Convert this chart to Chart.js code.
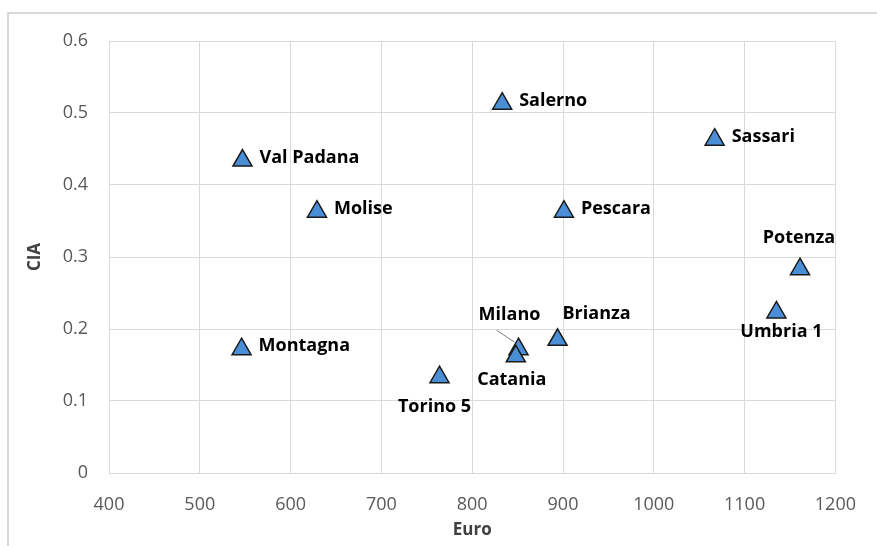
<!DOCTYPE html>
<html>
<head>
<meta charset="utf-8">
<script src="https://cdn.jsdelivr.net/npm/chart.js@4.4.0/dist/chart.umd.min.js"></script>
<style>
  html, body { margin: 0; padding: 0; background: #fff; }
  #wrap { width: 877px; height: 546px; position: relative; }
</style>
</head>
<body>
<div id="wrap"><canvas id="myChart"></canvas></div>
<script>
// data
var nomi = ['Val Padana', 'Molise', 'Salerno', 'Sassari', 'Pescara', 'Potenza',
            'Umbria 1', 'Brianza', 'Milano', 'Catania', 'Montagna', 'Torino 5'];
var euro = [547, 629, 833, 1067, 901, 1161, 1135, 894, 851, 848, 546, 764];
var cia  = [0.434, 0.363, 0.513, 0.463, 0.363, 0.283, 0.223, 0.185, 0.172, 0.162, 0.172, 0.133];
var xTicks = [400, 500, 600, 700, 800, 900, 1000, 1100, 1200];
var yTicks = [0, 0.1, 0.2, 0.3, 0.4, 0.5, 0.6];

// where each label sits relative to its marker (dx, dy, align)
var posEtichette = {
    'Val Padana': [17, -3, 'left'],
    'Molise':     [17, -3, 'left'],
    'Salerno':    [17, -3, 'left'],
    'Sassari':    [17, -3, 'left'],
    'Pescara':    [17, -3, 'left'],
    'Montagna':   [17, -3, 'left'],
    'Potenza':    [-1, -31, 'center'],
    'Umbria 1':   [5, 19, 'center'],
    'Brianza':    [39, -26, 'center'],
    'Milano':     [-9, -34, 'center'],
    'Catania':    [-4, 24, 'center'],
    'Torino 5':   [-5, 30, 'center']
};

var punti = [];
for (var i = 0; i < nomi.length; i++) {
    punti.push({x: euro[i], y: cia[i]});
}

var cornice = {
    id: 'cornice',
    beforeDraw: function(chart) {
        var ctx = chart.ctx;
        ctx.save();
        ctx.fillStyle = '#ffffff';
        ctx.fillRect(0, 0, chart.width, chart.height);
        ctx.strokeStyle = '#d9d9d9';
        ctx.lineWidth = 2;
        ctx.beginPath();
        ctx.moveTo(8, chart.height);
        ctx.lineTo(8, 13);
        ctx.lineTo(chart.width, 13);
        ctx.stroke();
        ctx.restore();
    }
};

var etichette = {
    id: 'etichette',
    afterDatasetsDraw: function(chart) {
        var ctx = chart.ctx;
        var meta = chart.getDatasetMeta(0);
        ctx.save();
        ctx.font = 'bold 18px "Open Sans"';
        ctx.fillStyle = '#000000';
        ctx.textBaseline = 'middle';
        meta.data.forEach(function(p, i) {
            var pos = posEtichette[nomi[i]];
            ctx.textAlign = pos[2];
            ctx.fillText(nomi[i], p.x + pos[0], p.y + pos[1]);
            if (nomi[i] == 'Milano') {
                ctx.strokeStyle = '#7f7f7f';
                ctx.lineWidth = 1;
                ctx.beginPath();
                ctx.moveTo(p.x - 22, p.y - 19);
                ctx.lineTo(p.x - 4, p.y - 7);
                ctx.stroke();
            }
        });
        ctx.restore();
    }
};

var ctx = document.getElementById('myChart');
var chart = new Chart(ctx, {
    type: 'scatter',
    data: {
        datasets: [{
            label: 'CIA',
            data: punti,
            pointStyle: 'triangle',
            pointRadius: 11,
            pointHoverRadius: 11,
            backgroundColor: '#4a8fd6',
            borderColor: '#1a1a1a',
            borderWidth: 1.5
        }]
    },
    options: {
        responsive: true,
        maintainAspectRatio: false,
        animation: false,
        layout: { padding: { top: 41, right: 39, left: 0, bottom: 0 } },
        plugins: {
            legend: { display: false },
            tooltip: { enabled: false }
        },
        scales: {
            x: {
                type: 'linear',
                min: 400,
                max: 1200,
                afterBuildTicks: function(s) { s.ticks = xTicks.map(function(v) { return {value: v}; }); },
                afterFit: function(s) { s.height = 73; },
                grid: { color: '#d9d9d9', drawTicks: false },
                border: { color: '#d9d9d9' },
                ticks: {
                    padding: 21,
                    color: '#595959',
                    font: { family: 'Open Sans', size: 18 },
                    callback: function(v) { return String(v); }
                },
                title: {
                    display: true,
                    text: 'Euro',
                    color: '#404040',
                    font: { family: 'Open Sans', size: 17, weight: 'bold' },
                    padding: { top: 0, bottom: 6 }
                }
            },
            y: {
                type: 'linear',
                min: 0,
                max: 0.6,
                afterBuildTicks: function(s) { s.ticks = yTicks.map(function(v) { return {value: v}; }); },
                afterFit: function(s) { s.width = 109; },
                grid: { color: '#d9d9d9', drawTicks: false },
                border: { color: '#d9d9d9' },
                ticks: {
                    padding: 21,
                    color: '#595959',
                    font: { family: 'Open Sans', size: 18 },
                    callback: function(v) { return String(v); }
                },
                title: {
                    display: true,
                    text: 'CIA',
                    color: '#404040',
                    font: { family: 'Open Sans', size: 17, weight: 'bold' },
                    padding: { top: 25, bottom: 0 }
                }
            }
        }
    },
    plugins: [cornice, etichette]
});
</script>
</body>
</html>
